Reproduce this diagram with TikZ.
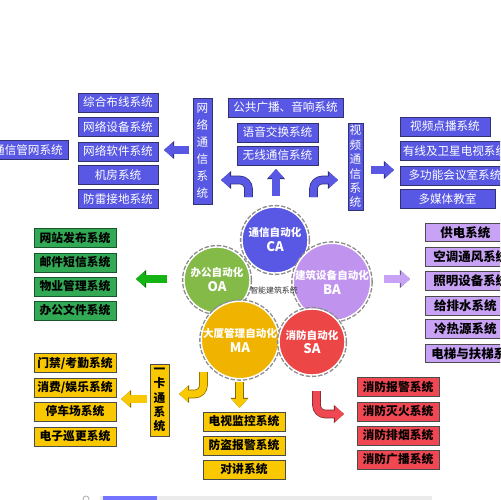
\documentclass[tikz,border=0pt]{standalone}
\usepackage{fontspec}
\newfontfamily\cjk{Noto Sans CJK SC}
\usetikzlibrary{arrows.meta}
\definecolor{netblue}{RGB}{88,88,228}
\definecolor{netedge}{RGB}{50,50,110}
\definecolor{oagreen}{RGB}{50,170,85}
\definecolor{oacircle}{RGB}{132,186,72}
\definecolor{bapurple}{RGB}{200,162,245}
\definecolor{bacircle}{RGB}{192,148,238}
\definecolor{mayellow}{RGB}{250,200,0}
\definecolor{macircle}{RGB}{240,180,0}
\definecolor{sared}{RGB}{240,72,82}
\definecolor{sacircle}{RGB}{236,70,70}
\definecolor{arrowgreen}{RGB}{20,180,20}
\tikzset{
  netbox/.style={draw=netedge,fill=netblue,text=white,inner sep=0pt,
    font=\cjk\fontsize{6.6}{9.6}\selectfont,minimum height=0.38cm,minimum width=#1},
  netbox/.default=1.6cm,
  subbox/.style={draw=black!70,text=black,inner sep=0pt,
    font=\cjk\bfseries\fontsize{6.7}{8.2}\selectfont,minimum height=0.38cm,minimum width=1.64cm},
  babox/.style={subbox,fill=bapurple,anchor=west,inner xsep=0.16cm,minimum width=1.6cm,
    minimum height=0.37cm,font=\cjk\bfseries\fontsize{7.1}{8.2}\selectfont},
  hub/.style={circle,draw=white,line width=0.8pt,text=white,align=center,inner sep=0pt,
    minimum size=1.32cm,font=\cjk\bfseries\fontsize{6}{8.5}\selectfont,
    preaction={draw=black!45,densely dotted,line width=2.4pt}},
  blkarrow/.style={draw=#1,line width=4pt,rounded corners=5pt,
    -{Triangle[width=8.5pt,length=5pt]},
    preaction={draw=#1!55!black,line width=4.9pt,-{Triangle[width=10pt,length=5.8pt]}}}
}
\begin{document}
\begin{tikzpicture}[x=0.02cm,y=-0.02cm]
  \useasboundingbox (0,0) rectangle (500,500);
  \fill[white] (0,0) rectangle (500,500);
  \clip (0,0) rectangle (500,500);

  % communication: cabling side
  \node[netbox] (pipe) at (28,150) {通信管网系统};
  \node[netbox] (cabling) at (118,102.5) {综合布线系统};
  \node[netbox] (equip) at (118,127) {网络设备系统};
  \node[netbox] (soft) at (118,151.5) {网络软件系统};
  \node[netbox] (room) at (118,175) {机房系统};
  \node[netbox] (ground) at (118,199) {防雷接地系统};
  \node[netbox=0.38cm,minimum height=2.12cm,align=center] (vnet) at (202.5,151) {网\\络\\通\\信\\系\\统};

  % communication: voice side
  \node[netbox=2.3cm] (bcast) at (285.5,107.5) {公共广播、音响系统};
  \node[netbox=1.62cm] (voice) at (277.5,132.5) {语音交换系统};
  \node[netbox=1.62cm] (wless) at (277.5,155.5) {无线通信系统};

  % communication: video side
  \node[netbox=0.3cm,minimum height=1.74cm,align=center,font=\cjk\fontsize{6.6}{8.2}\selectfont] (vvid) at (355.5,166.5) {视\\频\\通\\信\\系\\统};
  \node[netbox=1.8cm] (vod) at (445,126.5) {视频点播系统};
  \node[netbox=2.2cm] (catv) at (455,151) {有线及卫星电视系统};
  \node[netbox=2.2cm] (meet) at (455,175.5) {多功能会议室系统};
  \node[netbox=1.9cm] (media) at (447.5,199) {多媒体教室};

  % five subsystems
  \node[hub,fill=netblue] (ca) at (275,240) {通信自动化\\\fontsize{7.5}{8.5}\selectfont CA};
  \node[hub,fill=oacircle] (oa) at (217,280) {办公自动化\\\fontsize{7.5}{8.5}\selectfont OA};
  \node[hub,fill=bacircle] (ba) at (332,282) {建筑设备自动化\\\fontsize{7.5}{8.5}\selectfont BA};
  \node[hub,fill=macircle] (ma) at (240,340) {大厦管理自动化\\\fontsize{7.5}{8.5}\selectfont MA};
  \node[hub,fill=sacircle] (sa) at (312,342) {消防自动化\\\fontsize{7.5}{8.5}\selectfont SA};
  \node[font=\cjk\fontsize{4.5}{5}\selectfont,text=black!80] (core) at (274,290) {智能建筑系统};

  % office
  \node[subbox,fill=oagreen,draw=oagreen!50!black] (web) at (75,238) {网站发布系统};
  \node[subbox,fill=oagreen,draw=oagreen!50!black] (mail) at (75,262.5) {邮件短信系统};
  \node[subbox,fill=oagreen,draw=oagreen!50!black] (estate) at (75,286.5) {物业管理系统};
  \node[subbox,fill=oagreen,draw=oagreen!50!black] (docs) at (75,310.5) {办公文件系统};

  % building equipment
  \node[babox] (power) at (425,232.5) {供电系统};
  \node[babox] (hvac) at (425,257) {空调通风系统};
  \node[babox] (light) at (425,281) {照明设备系统};
  \node[babox] (water) at (425,306) {给排水系统};
  \node[babox] (heat) at (425,329) {冷热源系统};
  \node[babox,inner xsep=0.12cm] (lift) at (425,353.5) {电梯与扶梯系统};

  % building management
  \node[subbox,fill=mayellow] (door) at (75,363) {门禁/考勤系统};
  \node[subbox,fill=mayellow] (pay) at (75,387.5) {消费/娱乐系统};
  \node[subbox,fill=mayellow] (park) at (75,411.5) {停车场系统};
  \node[subbox,fill=mayellow] (patrol) at (75,436.5) {电子巡更系统};
  \node[subbox,fill=mayellow,minimum width=0.38cm,minimum height=1.44cm,align=center] (card) at (159.5,400) {一\\卡\\通\\系\\统};
  \node[subbox,fill=mayellow] (cctv) at (244,421.5) {电视监控系统};
  \node[subbox,fill=mayellow] (alarm) at (244,445.5) {防盗报警系统};
  \node[subbox,fill=mayellow] (talk) at (244,469.5) {对讲系统};

  % fire
  \node[subbox,fill=sared] (fire1) at (398,387) {消防报警系统};
  \node[subbox,fill=sared] (fire2) at (398,411.5) {消防灭火系统};
  \node[subbox,fill=sared] (fire3) at (398,435.5) {消防排烟系统};
  \node[subbox,fill=sared] (fire4) at (398,459.5) {消防广播系统};

  % arrow ends
  \coordinate (a1s) at (189,150);  \coordinate (a1e) at (164,150);
  \coordinate (a2s) at (248.5,197); \coordinate (a2e) at (221,180);
  \coordinate (a3s) at (276,196);  \coordinate (a3e) at (276,169);
  \coordinate (a4s) at (313.5,197); \coordinate (a4e) at (338,180);
  \coordinate (a5s) at (371,170);  \coordinate (a5e) at (394,170);
  \coordinate (a6s) at (167,279);  \coordinate (a6e) at (136,279);
  \coordinate (a7s) at (384,279);  \coordinate (a7e) at (410,279);
  \coordinate (a8s) at (147,399);  \coordinate (a8e) at (121,399);
  \coordinate (a9s) at (203.5,372); \coordinate (a9e) at (179,394);
  \coordinate (a10s) at (239.5,382); \coordinate (a10e) at (239.5,408);
  \coordinate (a11s) at (316.5,391); \coordinate (a11e) at (344,414);

  \draw[blkarrow=netblue] (a1s) -- (a1e);
  \draw[blkarrow=netblue] (a2s) |- (a2e);
  \draw[blkarrow=netblue] (a3s) -- (a3e);
  \draw[blkarrow=netblue] (a4s) |- (a4e);
  \draw[blkarrow=netblue] (a5s) -- (a5e);
  \draw[blkarrow=arrowgreen] (a6s) -- (a6e);
  \draw[blkarrow=bapurple] (a7s) -- (a7e);
  \draw[blkarrow=mayellow] (a8s) -- (a8e);
  \draw[blkarrow=mayellow] (a9s) |- (a9e);
  \draw[blkarrow=mayellow] (a10s) -- (a10e);
  \draw[blkarrow=sared] (a11s) |- (a11e);

  % scroll bar at the foot
  \fill[black!8] (100,496) rectangle (432,500);
  \fill[blue!55] (103,496) rectangle (157,500);
  \draw[black!35] (86,499) circle (3);
\end{tikzpicture}
\end{document}
